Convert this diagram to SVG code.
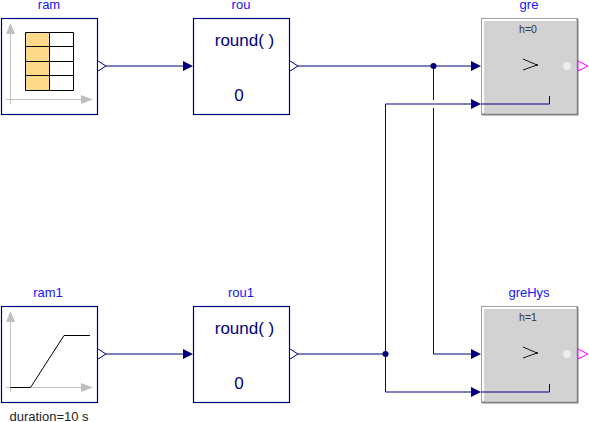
<svg xmlns="http://www.w3.org/2000/svg" width="589" height="422" viewBox="0 0 589 422">
<style>
text{font-family:"Liberation Sans",Arial,sans-serif;text-anchor:middle}
.name{font-size:13px;fill:#1414ff}
.box{fill:#fff;stroke:#00007f;stroke-width:1.2}
.axis{fill:none;stroke:#c0c0c0;stroke-width:1}
.axh{fill:#c0c0c0}
.blk{fill:none;stroke:#000;stroke-width:1}
.conn{fill:none;stroke:#00007f;stroke-width:1}
.ah{fill:#00007f}
.port{fill:#fff;stroke:#00007f;stroke-width:1}
.mag{fill:#fff;stroke:#ff00ff;stroke-width:1}
.rd{font-size:17px;fill:#00007f}
.small{font-size:10.500px;fill:#333}
.g1{fill:#d2d2d2}
</style>
<defs>
<g id="grebody">
<rect x="0.5" y="0.5" width="96" height="96" fill="#fff" stroke="#a0a0a0"/>
<path d="M96.500 1V96.500H1" fill="none" stroke="#808080" stroke-width="2"/>
<rect x="3" y="3" width="92" height="92" class="g1"/>
<path d="M42 41L56 47L42 52" fill="none" stroke="#000" stroke-width="0.9"/>
<circle cx="56" cy="47" r="1" fill="#000"/>
<circle cx="86" cy="48" r="4" fill="#ececec"/>
<path d="M97 43L107 48L97 53Z" class="mag"/>
</g>
</defs>
<g id="connectors">
<path class="conn" d="M106 66H184M298 66H472M106 354H184M298 354H385.500M433.500 354H472"/>
<path class="conn" d="M433.500 66V100M433.500 108V354"/>
<path class="conn" d="M385.500 354V104H472M385.500 354V392H472"/>
</g>
<g id="ram">
<text class="name" x="49" y="9">ram</text>
<rect class="box" x="1.500" y="18.500" width="96" height="96"/>
<rect x="25.500" y="32.500" width="24" height="58" fill="#ffd88a"/>
<path class="blk" d="M25.500 32.500H73.500V90.500H25.500ZM49.500 32.500V90.500M25.500 46.500H73.500M25.500 61.500H73.500M25.500 75.500H73.500"/>
<path class="axis" d="M10.500 29V104M6 99.500H90"/>
<path class="axh" d="M10.500 23L15 34H6ZM93 99.500L81 95V104Z"/>
</g>
<g id="rou">
<text class="name" x="241" y="9">rou</text>
<rect class="box" x="193.500" y="18.500" width="96" height="96"/>
<text class="rd" x="244.500" y="46">round( )</text>
<text class="rd" x="239" y="101">0</text>
</g>
<g id="gre">
<text class="name" x="529" y="9">gre</text>
<use href="#grebody" x="481" y="18"/>
<text class="small" x="528" y="33">h=0</text>
</g>
<g id="ram1">
<text class="name" x="48" y="297">ram1</text>
<rect class="box" x="1.500" y="306.500" width="96" height="96"/>
<path class="axis" d="M10.500 317V392M6 387.500H90"/>
<path class="axh" d="M10.500 311L15 322H6ZM93 387.500L81 383V392Z"/>
<path class="blk" d="M10.500 387.500H30.500L64 335.500H90"/>
<text x="49" y="421" font-size="13" fill="#222">duration=10 s</text>
</g>
<g id="rou1">
<text class="name" x="241" y="297">rou1</text>
<rect class="box" x="193.500" y="306.500" width="96" height="96"/>
<text class="rd" x="244.500" y="334">round( )</text>
<text class="rd" x="239" y="389">0</text>
</g>
<g id="greHys">
<text class="name" x="529" y="297">greHys</text>
<use href="#grebody" x="481" y="306"/>
<text class="small" x="528" y="321">h=1</text>
</g>
<g id="connector-overlay">
<path class="conn" d="M481 104H549.500V96M481 392H549.500V384"/>
<path class="ah" d="M481 66L471 61V71ZM481 104L471 99V109ZM481 354L471 349V359ZM481 392L471 387V397ZM193 66L183 61V71ZM193 354L183 349V359Z"/>
<circle class="ah" cx="433.500" cy="66" r="3"/>
<circle class="ah" cx="385.500" cy="354" r="3"/>
<path class="port" d="M98 61L106 66L98 71M290 61L298 66L290 71M98 349L106 354L98 359M290 349L298 354L290 359"/>
</g>
</svg>
